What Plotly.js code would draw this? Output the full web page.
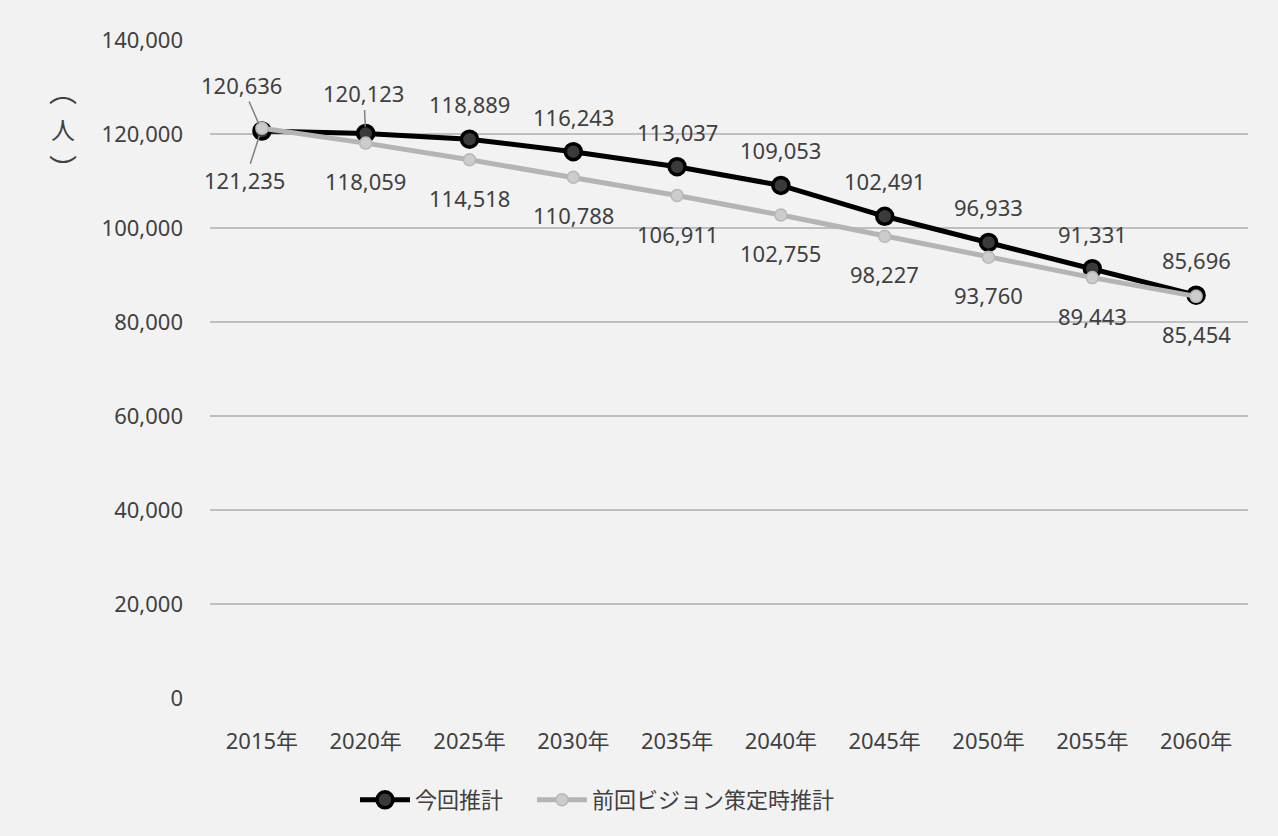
<!DOCTYPE html>
<html>
<head>
<meta charset="utf-8">
<script src="https://cdn.plot.ly/plotly-3.0.1.min.js"></script>
<style>
html,body{margin:0;padding:0;background:#f2f2f2;}
#chart{width:1278px;height:836px;}
</style>
</head>
<body>
<div id="chart"></div>
<script>
const categories = ['2015年','2020年','2025年','2030年','2035年','2040年','2045年','2050年','2055年','2060年'];
const currentName = '今回推計';
const currentValues = [120636,120123,118889,116243,113037,109053,102491,96933,91331,85696];
const previousName = '前回ビジョン策定時推計';
const previousValues = [121235,118059,114518,110788,106911,102755,98227,93760,89443,85454];
const yTickValues = [0,20000,40000,60000,80000,100000,120000,140000];
const yUnitChars = ['︵','人','︶'];

const FONT = '"Noto Sans", "Noto Sans CJK JP", sans-serif';
const CJK = '"Noto Sans CJK JP", sans-serif';
const TXT = '#404040';
const FS = 22;
const fmt = v => v.toLocaleString('en-US');

const traceCurrent = {
  x: categories, y: currentValues, name: currentName, type: 'scatter', mode: 'lines+markers',
  line: {color: '#000000', width: 5},
  marker: {size: 16, color: '#3a3a3a', line: {color: '#000000', width: 3.5}},
  legend: 'legend', hoverinfo: 'x+y'
};
const tracePrevious = {
  x: categories, y: previousValues, name: previousName, type: 'scatter', mode: 'lines+markers',
  line: {color: '#b4b4b4', width: 5},
  marker: {size: 12, color: '#cccccc', line: {color: '#b8b8b8', width: 1.5}},
  legend: 'legend2', hoverinfo: 'x+y'
};

const annotations = [];
const labelFont = {family: FONT, size: FS, color: TXT};
categories.forEach((c, i) => {
  if (i === 0) {
    annotations.push({x: c, y: currentValues[i], text: fmt(currentValues[i]), showarrow: true,
      arrowhead: 0, arrowwidth: 1.5, arrowcolor: '#808080', ax: -20, ay: -46, standoff: 8, font: labelFont});
  } else if (i === 1) {
    annotations.push({x: c, y: currentValues[i], text: fmt(currentValues[i]), showarrow: true,
      arrowhead: 0, arrowwidth: 1.5, arrowcolor: '#808080', ax: -2, ay: -40, standoff: 7, font: labelFont});
  } else {
    annotations.push({x: c, y: currentValues[i], text: fmt(currentValues[i]), showarrow: false,
      yshift: 35, font: labelFont});
  }
  if (i === 0) {
    annotations.push({x: c, y: previousValues[i], text: fmt(previousValues[i]), showarrow: true,
      arrowhead: 0, arrowwidth: 1.5, arrowcolor: '#808080', ax: -17, ay: 52, standoff: 8, font: labelFont});
  } else {
    annotations.push({x: c, y: previousValues[i], text: fmt(previousValues[i]), showarrow: false,
      yshift: -38, font: labelFont});
  }
});
// vertical unit label "（人）" written top-to-bottom
const unitPixelY = [90, 128, 168];
const plotTop = 40, plotH = 658;
yUnitChars.forEach((ch, k) => {
  annotations.push({xref: 'paper', yref: 'paper', x: (63 - 210) / 1038,
    y: 1 - (unitPixelY[k] - plotTop) / plotH, xanchor: 'center', yanchor: 'middle',
    text: ch, showarrow: false,
    font: {family: CJK, size: k === 1 ? 24 : 28, color: TXT}});
});

const legendBase = {orientation: 'h', y: -0.155, yanchor: 'middle', xanchor: 'left',
  font: {family: CJK, size: FS, color: TXT}, itemwidth: 50, bgcolor: 'rgba(0,0,0,0)'};

const layout = {
  width: 1278, height: 836,
  paper_bgcolor: '#f2f2f2', plot_bgcolor: '#f2f2f2',
  margin: {l: 210, r: 30, t: 40, b: 138},
  font: {family: FONT, size: FS, color: TXT},
  showlegend: true,
  legend: Object.assign({}, legendBase, {x: (355 - 210) / 1038}),
  legend2: Object.assign({}, legendBase, {x: (532 - 210) / 1038}),
  xaxis: {type: 'category', range: [-0.5, 9.5], showgrid: false, zeroline: false, showline: false,
    ticks: '', ticklabelstandoff: 28, tickfont: {family: FONT, size: FS, color: TXT}, fixedrange: true},
  yaxis: {range: [0, 140000], tickvals: yTickValues, ticktext: yTickValues.map(fmt),
    showgrid: true, gridcolor: '#bfbfbf', gridwidth: 1.5, zeroline: false, showline: false,
    ticks: '', ticklabelstandoff: 26, tickfont: {family: FONT, size: FS, color: TXT}, fixedrange: true},
  annotations: annotations
};

Plotly.newPlot('chart', [traceCurrent, tracePrevious], layout, {displayModeBar: false, staticPlot: true});
</script>
</body>
</html>
